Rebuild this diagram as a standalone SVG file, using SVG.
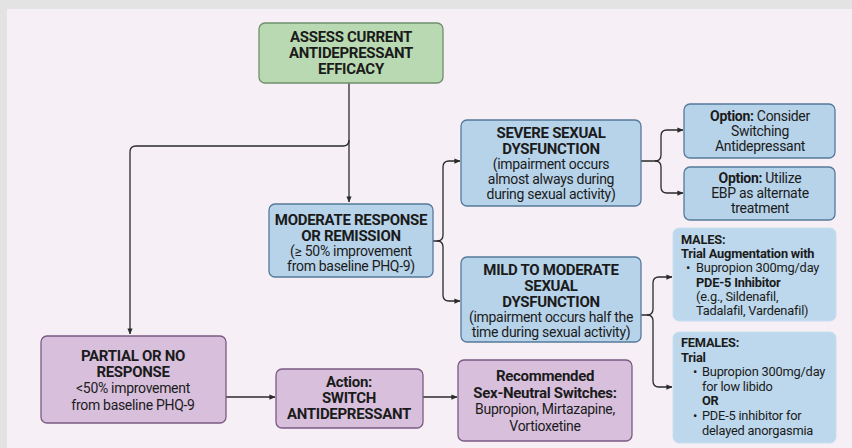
<svg xmlns="http://www.w3.org/2000/svg" width="852" height="448" viewBox="0 0 852 448">
<defs>
<marker id="ah" viewBox="0 0 8 8" refX="7.5" refY="4" markerWidth="6" markerHeight="6" orient="auto" markerUnits="userSpaceOnUse">
<path d="M0,0.5 L8,4 L0,7.5 Z" fill="#2a2a2a"/>
</marker>
<style>
text{font-family:Roboto,"Liberation Sans",sans-serif;fill:#1b1b1b}
.t{font-weight:700;font-size:15px;letter-spacing:-0.3px;text-anchor:middle}
.b{font-size:14px;letter-spacing:-0.3px;text-anchor:middle}
.l{font-size:12.8px;letter-spacing:-0.2px}
.lb{font-size:12.8px;letter-spacing:-0.2px;font-weight:700}
.o{font-size:14px;letter-spacing:-0.3px;text-anchor:middle}
.green{fill:#b9d9b2;stroke:#6e8f69;stroke-width:1.3}
.blue{fill:#b7d3ea;stroke:#56799a;stroke-width:1.3}
.lblue{fill:#bdd8ec;stroke:#c9def0;stroke-width:1}
.purple{fill:#d8c0dd;stroke:#7a5a82;stroke-width:1.3}
.c{fill:none;stroke:#2a2a2a;stroke-width:1.3}
</style>
</defs>
<rect x="0" y="0" width="852" height="448" fill="#e4e3e4"/>
<rect x="7" y="9" width="845" height="439" fill="#f6f0f6"/>

<g id="connectors">
<path class="c" d="M349,83 V202" marker-end="url(#ah)"/>
<path class="c" d="M349,140 Q349,146 343,146 H136 Q130,146 130,152 V334" marker-end="url(#ah)"/>
<path class="c" d="M433,241 H437 Q443,241 443,235 V167 Q443,161 449,161 H460" marker-end="url(#ah)"/>
<path class="c" d="M437,241 Q443,241 443,247 V295 Q443,301 449,301 H460" marker-end="url(#ah)"/>
<path class="c" d="M641,161 H655 Q661,161 661,155 V136 Q661,130 667,130 H683" marker-end="url(#ah)"/>
<path class="c" d="M655,161 Q661,161 661,167 V187 Q661,193 667,193 H683" marker-end="url(#ah)"/>
<path class="c" d="M641,315 H647 Q653,315 653,309 V283 Q653,277 659,277 H672" marker-end="url(#ah)"/>
<path class="c" d="M647,315 Q653,315 653,321 V381 Q653,387 659,387 H672" marker-end="url(#ah)"/>
<path class="c" d="M226,397 H275" marker-end="url(#ah)"/>
<path class="c" d="M423,397 H457" marker-end="url(#ah)"/>
</g>

<g id="assess">
<rect class="green" x="259" y="23" width="184" height="60" rx="6"/>
<text class="t" x="351" y="42">ASSESS CURRENT</text>
<text class="t" x="351" y="58">ANTIDEPRESSANT</text>
<text class="t" x="351" y="74">EFFICACY</text>
</g>

<g id="moderate">
<rect class="blue" x="269" y="204" width="164" height="73" rx="6"/>
<text class="t" x="351" y="224.5">MODERATE RESPONSE</text>
<text class="t" x="351" y="240.5">OR REMISSION</text>
<text class="b" x="351" y="255.5">(≥ 50% improvement</text>
<text class="b" x="351" y="270.5">from baseline PHQ-9)</text>
</g>

<g id="severe">
<rect class="blue" x="461" y="120" width="180" height="86" rx="6"/>
<text class="t" x="551" y="137.5">SEVERE SEXUAL</text>
<text class="t" x="551" y="153.5">DYSFUNCTION</text>
<text class="b" x="551" y="169">(impairment occurs</text>
<text class="b" x="551" y="184">almost always during</text>
<text class="b" x="551" y="199">during sexual activity)</text>
</g>

<g id="mild">
<rect class="blue" x="461" y="257" width="180" height="85" rx="6"/>
<text class="t" x="551" y="274.5">MILD TO MODERATE</text>
<text class="t" x="551" y="290.5">SEXUAL</text>
<text class="t" x="551" y="306.5">DYSFUNCTION</text>
<text class="b" x="551" y="321.5">(impairment occurs half the</text>
<text class="b" x="551" y="336.5">time during sexual activity)</text>
</g>

<g id="option-switch">
<rect class="blue" x="684" y="104" width="151" height="54" rx="6"/>
<text class="o" x="760" y="121"><tspan font-weight="700">Option:</tspan> Consider</text>
<text class="o" x="760" y="136">Switching</text>
<text class="o" x="760" y="151">Antidepressant</text>
</g>

<g id="option-ebp">
<rect class="blue" x="684" y="167" width="151" height="53" rx="6"/>
<text class="o" x="760" y="183"><tspan font-weight="700">Option:</tspan> Utilize</text>
<text class="o" x="760" y="198">EBP as alternate</text>
<text class="o" x="760" y="213">treatment</text>
</g>

<g id="males">
<rect class="lblue" x="673" y="228" width="163" height="93" rx="6"/>
<text class="lb" x="681" y="244">MALES:</text>
<text class="lb" x="681" y="258.2">Trial Augmentation with</text>
<text class="l" x="686" y="272.4">•</text>
<text class="l" x="696" y="272.4">Bupropion 300mg/day</text>
<text class="lb" x="696" y="286.6">PDE-5 Inhibitor</text>
<text class="l" x="696" y="300.8">(e.g., Sildenafil,</text>
<text class="l" x="696" y="315">Tadalafil, Vardenafil)</text>
</g>

<g id="females">
<rect class="lblue" x="673" y="332" width="163" height="111" rx="6"/>
<text class="lb" x="681" y="347">FEMALES:</text>
<text class="lb" x="681" y="361.6">Trial</text>
<text class="l" x="693" y="376.2">•</text>
<text class="l" x="702" y="376.2">Bupropion 300mg/day</text>
<text class="l" x="702" y="390.8">for low libido</text>
<text class="lb" x="702" y="405.4">OR</text>
<text class="l" x="693" y="420">•</text>
<text class="l" x="702" y="420">PDE-5 inhibitor for</text>
<text class="l" x="702" y="434.6">delayed anorgasmia</text>
</g>

<g id="partial">
<rect class="purple" x="41" y="336" width="185" height="87" rx="6"/>
<text class="t" x="133" y="360.5">PARTIAL OR NO</text>
<text class="t" x="133" y="376.5">RESPONSE</text>
<text class="b" x="133" y="393">&lt;50% improvement</text>
<text class="b" x="133" y="410">from baseline PHQ-9</text>
</g>

<g id="action">
<rect class="purple" x="276" y="369" width="147" height="59" rx="6"/>
<text class="t" x="349" y="386.5">Action:</text>
<text class="t" x="349" y="402.5">SWITCH</text>
<text class="t" x="349" y="418.5">ANTIDEPRESSANT</text>
</g>

<g id="recommended">
<rect class="purple" x="458" y="360" width="174" height="81" rx="6"/>
<text class="t" x="545" y="380.5">Recommended</text>
<text class="t" x="545" y="397.5">Sex-Neutral Switches:</text>
<text class="b" x="545" y="414">Bupropion, Mirtazapine,</text>
<text class="b" x="545" y="431">Vortioxetine</text>
</g>
</svg>
